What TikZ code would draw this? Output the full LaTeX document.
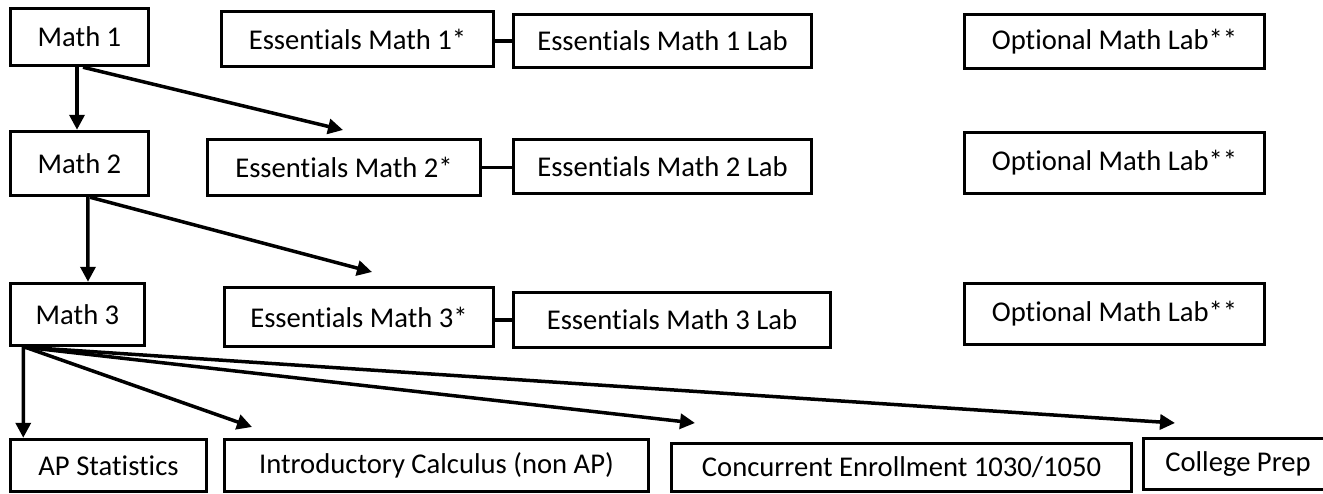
\documentclass[tikz,border=0pt]{standalone}
\usepackage{fontspec}
\setmainfont{Carlito}[Ligatures=NoCommon]
\usetikzlibrary{arrows.meta,positioning}

\begin{document}
\begin{tikzpicture}[
		x=0.02cm, y=-0.02cm,
		>={Triangle[length=0.3cm,width=0.3cm]},
		font=\fontsize{16.3}{19}\selectfont,
		course/.style={
			rectangle,
			draw=black,
			line width=0.07cm,
			inner sep=0pt,
			text centered,
			fill=white
		},
		link/.style={
			draw,
			line width=0.07cm
		}
		]
		\useasboundingbox (0,0) rectangle (1323,494);
		% We start by placing the blocks
		
		\node [course, minimum width=2.76cm, minimum height=1.14cm] (math1) at (79.5,37) {Math 1};
		\node [course, minimum width=5.44cm, minimum height=1.10cm] (ess1) at (357.5,39) {Essentials Math 1*};
		\node [course, minimum width=5.96cm, minimum height=1.06cm] (lab1) at (662.5,41) {Essentials Math 1 Lab};
		\node [course, minimum width=6.00cm, minimum height=1.08cm] (opt1) at (1114.5,41.5) {Optional Math Lab**};
		
		\node [course, minimum width=2.76cm, minimum height=1.28cm] (math2) at (79.5,163.5) {Math 2};
		\node [course, minimum width=5.46cm, minimum height=1.12cm] (ess2) at (344,167.5) {Essentials Math 2*};
		\node [course, minimum width=5.96cm, minimum height=1.08cm] (lab2) at (662.5,166.5) {Essentials Math 2 Lab};
		\node [course, minimum width=6.00cm, minimum height=1.22cm] (opt2) at (1114.5,163) {Optional Math Lab**};
		
		\node [course, minimum width=2.68cm, minimum height=1.24cm] (math3) at (77.5,314.5) {Math 3};
		\node [course, minimum width=5.38cm, minimum height=1.18cm] (ess3) at (359,317) {Essentials Math 3*};
		\node [course, minimum width=6.34cm, minimum height=1.10cm] (lab3) at (672,320) {Essentials Math 3 Lab};
		\node [course, minimum width=6.00cm, minimum height=1.22cm] (opt3) at (1114.5,314) {Optional Math Lab**};
		
		\node [course, minimum width=3.92cm, minimum height=1.04cm] (ap) at (108.5,465.5) {AP Statistics};
		\node [course, minimum width=8.48cm, minimum height=1.04cm] (intro) at (436.5,465.5) {Introductory Calculus (non AP)};
		\node [course, minimum width=9.20cm, minimum height=0.96cm] (conc) at (901.5,467.5) {Concurrent Enrollment 1030/1050};
		\node [course, minimum width=3.78cm, minimum height=1.02cm] (prep) at (1238,464) {College Prep};
		
		% arrow ends above the boxes
		\coordinate (ess2in) at (343,130);
		\coordinate (ess3in) at (372,272);
		\coordinate (introin) at (252,427);
		\coordinate (concin) at (695,423);
		\coordinate (prepin) at (1175,423);
		
		\draw [link,->] ([xshift=-0.05cm]math1.south) -- ([xshift=-0.05cm]math2.north);
		\draw [link,->] ([xshift=0.07cm]math1.south) -- (ess2in);
		\draw [link,->] ([xshift=0.17cm]math2.south) -- ([xshift=0.21cm]math3.north);
		\draw [link,->] ([xshift=0.21cm]math2.south) -- (ess3in);
		\draw [link,->] ([xshift=0.29cm]math3.south west) -- ([xshift=0.29cm]ap.north west);
		\draw [link,->] ([xshift=0.33cm]math3.south west) -- (introin);
		\draw [link,->] ([xshift=0.33cm]math3.south west) -- (concin);
		\draw [link,->] ([xshift=0.33cm]math3.south west) -- (prepin);
		
		\draw [link] (lab1.west -| ess1.east) -- (lab1.west);
		\draw [link] (ess2.east) -- (ess2.east -| lab2.west);
		\draw [link] (lab3.west -| ess3.east) -- (lab3.west);
		
\end{tikzpicture}
\end{document}
